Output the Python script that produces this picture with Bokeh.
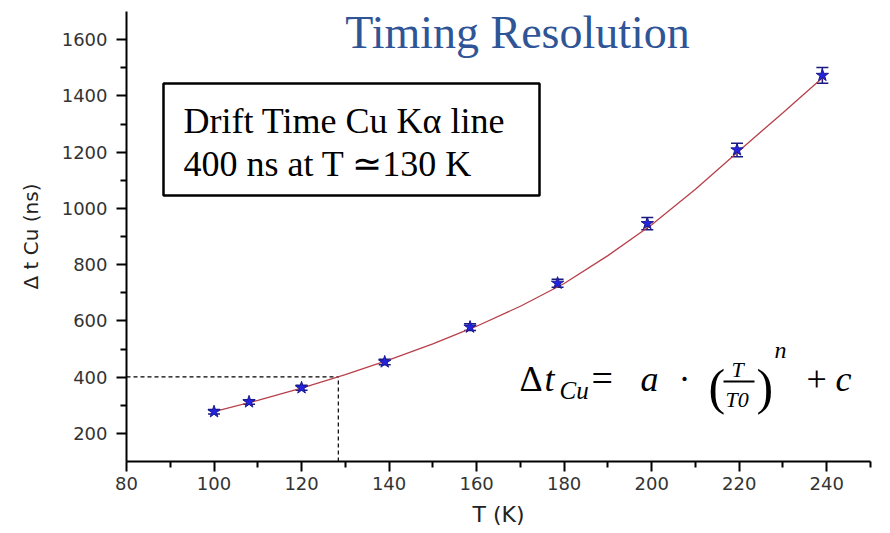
from bokeh.plotting import figure
from bokeh.models import (ColumnDataSource, Range1d, FixedTicker, Label, BoxAnnotation,
                          Whisker, TeeHead)
from bokeh.embed import file_html
from bokeh.resources import INLINE

# ---- data ----
temperature_K = [100, 108, 120, 139, 158.5, 178.5, 199, 219.5, 239]
drift_time_ns = [277, 312, 362, 454, 578, 734, 946, 1208, 1473]
drift_err_ns = [8, 8, 9, 10, 12, 14, 22, 24, 28]

fit_T = [100, 110, 120, 130, 140, 150, 160, 170, 180, 190, 200, 210, 220, 230, 240]
fit_dt = [277, 317, 361, 409, 461, 518, 581, 652, 733, 832, 942, 1068, 1205, 1340, 1478]

marker_T = 128.4
marker_dt = 401

x_major = [80, 100, 120, 140, 160, 180, 200, 220, 240]
x_minor = [90, 110, 130, 150, 170, 190, 210, 230, 250]
y_major = [200, 400, 600, 800, 1000, 1200, 1400, 1600]
y_minor = [300, 500, 700, 900, 1100, 1300, 1500]

title_text = "Timing Resolution"
box_lines = ["Drift Time Cu K\u03b1 line", "400 ns at T \u2243130 K"]

# ---- figure ----
FL, FB = 126, 461  # frame left / bottom on canvas
p = figure(width=890, height=533, output_backend="svg", toolbar_location=None,
           x_range=Range1d(80, 250), y_range=Range1d(100, 1700),
           min_border_left=FL, min_border_right=20, min_border_top=11,
           min_border_bottom=533 - FB)
p.outline_line_color = None
p.xgrid.grid_line_color = None
p.ygrid.grid_line_color = None
p.background_fill_color = "white"
p.border_fill_color = "white"

for ax, maj, mnr in ((p.xaxis[0], x_major, x_minor), (p.yaxis[0], y_major, y_minor)):
    ax.ticker = FixedTicker(ticks=maj, minor_ticks=mnr)
    ax.axis_line_width = 2
    ax.axis_line_color = "black"
    ax.major_tick_line_width = 2
    ax.minor_tick_line_width = 2
    ax.major_tick_out = 10
    ax.major_tick_in = 0
    ax.minor_tick_out = 6
    ax.minor_tick_in = 0
    ax.major_label_text_font = "DejaVu Sans"
    ax.major_label_text_font_size = "18px"
    ax.major_label_text_color = "#333333"
    ax.axis_label_text_font = "DejaVu Sans"
    ax.axis_label_text_font_style = "normal"
    ax.axis_label_text_color = "#222222"

p.xaxis.axis_label = "T (K)"
p.xaxis.axis_label_text_font_size = "22px"
p.xaxis.major_label_standoff = 5
p.xaxis.axis_label_standoff = 9
p.yaxis.axis_label = "\u0394 t Cu (ns)"
p.yaxis.axis_label_text_font_size = "20px"
p.yaxis.major_label_standoff = 9
p.yaxis.axis_label_standoff = 16

# dashed guide lines
p.line([80, marker_T], [marker_dt, marker_dt], line_color="black", line_dash="4 3", line_width=1.2)
p.line([marker_T, marker_T], [100, marker_dt], line_color="black", line_dash="4 3", line_width=1.2)

# fit curve
p.line(fit_T, fit_dt, line_color="#b8404a", line_width=1.3)

# data with error bars
upper = [v + e for v, e in zip(drift_time_ns, drift_err_ns)]
lower = [v - e for v, e in zip(drift_time_ns, drift_err_ns)]
src = ColumnDataSource(dict(T=temperature_K, dt=drift_time_ns, upper=upper, lower=lower))
p.add_layout(Whisker(source=src, base="T", upper="upper", lower="lower", dimension="height",
                     line_color="#1a1a80", line_width=1.5,
                     upper_head=TeeHead(size=12, line_color="#1a1a80", line_width=1.5),
                     lower_head=TeeHead(size=12, line_color="#1a1a80", line_width=1.5)))
p.scatter("T", "dt", source=src, marker="star", size=13, fill_color="#2424e0",
          line_color="#1a1a90", line_width=1)


def lab(text, cx, cy, size, style="normal", font="Liberation Serif", align="left",
        color="black"):
    cy = cy - 0.3 * size  # compensate baseline placement
    p.add_layout(Label(x=cx - FL, y=FB - cy, x_units="screen", y_units="screen", text=text,
                       text_font=font, text_font_size=f"{size}px", text_font_style=style,
                       text_align=align, text_baseline="alphabetic", text_color=color))


def sbox(left, right, top, bottom, **kw):
    p.add_layout(BoxAnnotation(left=left - FL, right=right - FL, top=FB - top,
                               bottom=FB - bottom, left_units="screen", right_units="screen",
                               top_units="screen", bottom_units="screen", **kw))


# title
lab(title_text, 517, 46, 46, align="center", color="#2F5597")

# text box
sbox(163, 539, 83, 195, fill_color="white", fill_alpha=1.0, line_color="black",
     line_alpha=1.0, line_width=2.5)
lab(box_lines[0], 183, 131, 36)
lab(box_lines[1], 183, 174, 36)

# formula
lab("\u0394", 519, 389, 36)
lab("t", 544, 389, 36, style="italic")
lab("Cu", 559, 397, 25, style="italic")
lab("=", 591, 389, 38)
lab("a", 640, 389, 36, style="italic")
lab("\u00b7", 678, 389, 36)
lab("(", 708, 401, 50)
lab("T", 731, 376, 22, style="italic")
sbox(723, 754, 380, 382, fill_color="black", fill_alpha=1.0, line_color=None)
lab("T0", 725, 406, 22, style="italic")
lab(")", 756, 401, 50)
lab("n", 774, 357, 24, style="italic")
lab("+", 806, 389, 36)
lab("c", 835, 389, 36, style="italic")

open("out.html", "w").write(file_html(p, INLINE))
